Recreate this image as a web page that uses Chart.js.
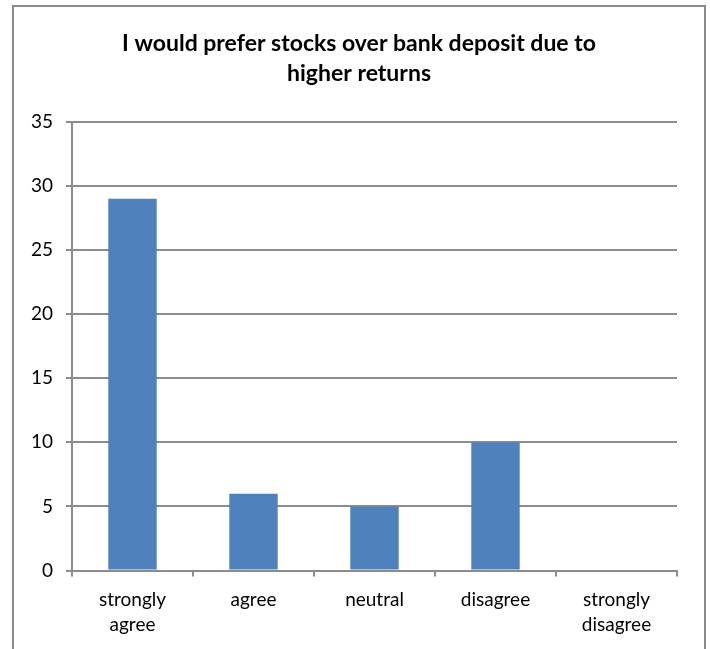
<!DOCTYPE html>
<html>
<head>
<meta charset="utf-8">
<script src="https://cdn.jsdelivr.net/npm/chart.js@4"></script>
<style>
  html, body { margin: 0; padding: 0; background: #fff; }
  #wrap { width: 710px; height: 649px; position: relative; }
</style>
</head>
<body>
<div id="wrap"><canvas id="mychart" width="710" height="649"></canvas></div>
<script>
// chart data
const categories = [["strongly", "agree"], "agree", "neutral", "disagree", ["strongly", "disagree"]];
const responses = [29, 6, 5, 10, 0];
const titleLines = ["I would prefer stocks over bank deposit due to", "higher returns"];
const yTicks = { min: 0, max: 35, step: 5 };

const gridGray = "#8c8c8c";

// outer frame round the whole chart (open at the bottom, like the crop)
const framePlugin = {
  id: "frame",
  beforeDraw(chart) {
    const c = chart.ctx;
    c.save();
    c.strokeStyle = "#8a8a8a";
    c.lineWidth = 2;
    c.beginPath();
    c.moveTo(13, chart.height + 5);
    c.lineTo(13, 6);
    c.lineTo(705, 6);
    c.lineTo(705, chart.height + 5);
    c.stroke();
    c.restore();
  },
};

const ctx = document.getElementById("mychart").getContext("2d");

let myChart = new Chart(ctx, {
  type: "bar",
  data: {
    labels: categories,
    datasets: [
      {
        data: responses,
        backgroundColor: "#4F81BD",
        barPercentage: 0.4,
        categoryPercentage: 1,
      },
    ],
  },
  plugins: [framePlugin],
  options: {
    responsive: false,
    animation: false,
    layout: { padding: { left: 13, right: 5, top: 22, bottom: 1 } },
    plugins: {
      legend: { display: false },
      tooltip: { enabled: false },
      title: {
        display: true,
        text: titleLines,
        color: "#000",
        font: { family: "Lato", size: 23, weight: "bold", lineHeight: 1.3 },
        padding: { top: 7, bottom: 33 },
      },
    },
    scales: {
      x: {
        offset: true,
        grid: {
          offset: true,
          drawOnChartArea: false,
          drawTicks: true,
          tickLength: 6,
          color: gridGray,
          lineWidth: 2,
        },
        border: { color: gridGray, width: 2 },
        ticks: {
          color: "#000",
          font: { family: "Lato", size: 19, lineHeight: 1.3 },
          padding: 11,
          maxRotation: 0,
          autoSkip: false,
        },
      },
      y: {
        min: yTicks.min,
        max: yTicks.max,
        afterFit(scale) {
          scale.width = 59;
        },
        grid: { color: gridGray, lineWidth: 2, tickLength: 6 },
        border: { color: gridGray, width: 2 },
        ticks: {
          stepSize: yTicks.step,
          color: "#000",
          font: { family: "Lato", size: 19 },
          padding: 13,
        },
      },
      // spacer on the right so the plot ends before the frame
      yRight: {
        position: "right",
        display: true,
        afterFit(scale) {
          scale.width = 28;
        },
        grid: { drawOnChartArea: false, drawTicks: false },
        border: { display: false },
        ticks: { display: false },
      },
    },
  },
});
</script>
</body>
</html>
